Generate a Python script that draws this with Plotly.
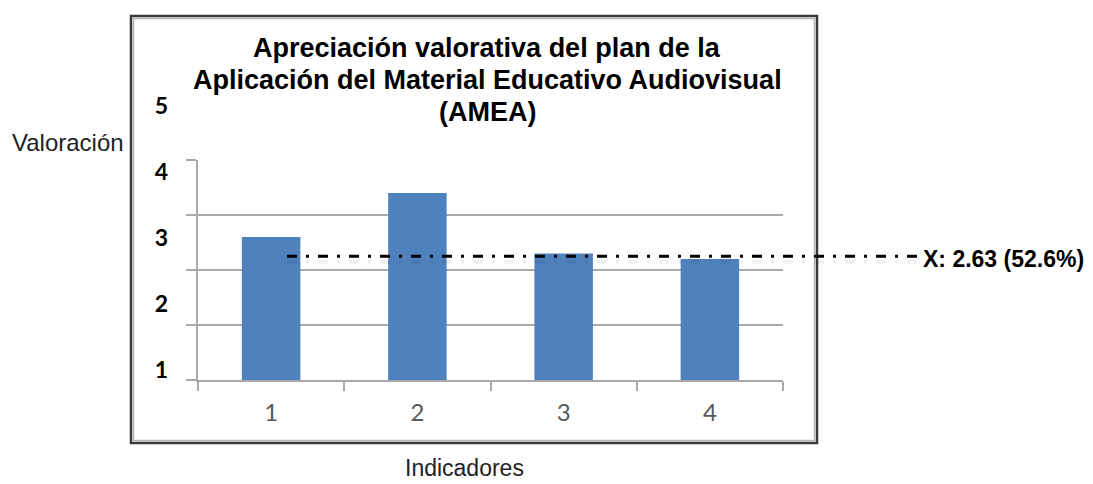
import plotly.graph_objects as go

# ---- data ----
categories = ["1", "2", "3", "4"]
values = [2.6, 3.4, 2.3, 2.2]
y_tick_labels = [1, 2, 3, 4, 5]
mean_value = 2.63
mean_percent = 52.6
mean_line_level = 2.25          # where the dash-dot line is drawn in the picture
title_lines = [
    "Apreciación valorativa del plan de la",
    "Aplicación del Material Educativo Audiovisual",
    "(AMEA)",
]
y_title = "Valoración"
x_title = "Indicadores"

# ---- layout geometry (pixels) ----
W, H = 1093, 484
L, R, T, B = 198, 310, 100, 104
PW, PH = W - L - R, H - T - B


def xp(px):
    return (px - L) / PW


def yp(py):
    return (H - B - py) / PH


fig = go.Figure()
fig.add_trace(go.Bar(
    x=categories, y=values,
    marker=dict(color="#4F81BD", line=dict(width=0)),
    width=0.4, showlegend=False, hoverinfo="skip",
))
# helper (empty) trace so the labelled secondary y scale is drawn
fig.add_trace(go.Scatter(x=[], y=[], xaxis="x", yaxis="y2",
                         showlegend=False, hoverinfo="skip"))

grid = "#a9a9a9"
fig.update_layout(
    width=W, height=H,
    margin=dict(l=L, r=R, t=T, b=B, pad=0),
    paper_bgcolor="white", plot_bgcolor="rgba(0,0,0,0)",
    xaxis=dict(
        type="category", anchor="y",
        showgrid=False, zeroline=False,
        showline=True, linecolor=grid, linewidth=1.5,
        ticks="outside", tickson="boundaries", ticklen=9,
        tickcolor=grid, tickwidth=1.5,
        tickfont=dict(family="Lato", size=24, color="#595959"),
        ticklabelstandoff=10,
    ),
    yaxis=dict(
        domain=[0, yp(160)], range=[0, 4], dtick=1,
        showgrid=True, gridcolor=grid, gridwidth=1.5,
        zeroline=False, showline=True, linecolor=grid, linewidth=1.5,
        ticks="outside", ticklen=10, tickcolor=grid, tickwidth=1.5,
        showticklabels=False,
    ),
    yaxis2=dict(
        domain=[0, 1], anchor="free", position=0,
        range=[1 - (380 - 369.7) / 66.05, 1 + (369.7 - 100) / 66.05],
        tickmode="array", tickvals=y_tick_labels,
        ticktext=[str(v) for v in y_tick_labels],
        showgrid=False, zeroline=False, showline=False, ticks="",
        tickfont=dict(family="Lato", size=23, color="black", weight="bold"),
        ticklabelstandoff=30,
    ),
)

shapes = []
# outer frame with a soft inner shadow line
shapes.append(dict(type="rect", xref="paper", yref="paper",
                   x0=xp(131), x1=xp(817), y0=yp(443), y1=yp(16),
                   line=dict(color="#3a3a3a", width=2.5), layer="below"))
shapes.append(dict(type="rect", xref="paper", yref="paper",
                   x0=xp(133.5), x1=xp(814.5), y0=yp(440.5), y1=yp(18.5),
                   line=dict(color="#b5b5b5", width=1.5), layer="below"))
# mean line (shadow + line)
shapes.append(dict(type="line", xref="paper", yref="y",
                   x0=xp(287), x1=xp(922),
                   y0=mean_line_level - 0.1, y1=mean_line_level - 0.1,
                   line=dict(color="rgba(0,0,0,0.06)", width=4,
                             dash="10px,9px,3px,9px")))
shapes.append(dict(type="line", xref="paper", yref="y",
                   x0=xp(287), x1=xp(922),
                   y0=mean_line_level, y1=mean_line_level,
                   line=dict(color="black", width=3,
                             dash="10px,9px,3px,9px")))
fig.update_layout(shapes=shapes)

ann = []
for text, py in zip(title_lines, [48, 80, 112]):
    ann.append(dict(text="<b>%s</b>" % text, xref="paper", yref="paper",
                    x=xp(487), y=yp(py), xanchor="center", yanchor="middle",
                    showarrow=False,
                    font=dict(family="Liberation Sans", size=27, color="black")))
ann.append(dict(text=y_title, xref="paper", yref="paper",
                x=xp(67.5), y=yp(142), xanchor="center", yanchor="middle",
                showarrow=False,
                font=dict(family="Liberation Sans", size=24, color="#222222")))
ann.append(dict(text=x_title, xref="paper", yref="paper",
                x=xp(464), y=yp(483), xanchor="center", yanchor="bottom",
                showarrow=False,
                font=dict(family="Liberation Sans", size=23, color="#222222")))
ann.append(dict(text="<b>X: %.2f (%.1f%%)</b>" % (mean_value, mean_percent),
                xref="paper", yref="paper",
                x=xp(921), y=yp(259), xanchor="left", yanchor="middle",
                showarrow=False,
                font=dict(family="Liberation Sans", size=23, color="black")))
fig.update_layout(annotations=ann)

fig.write_html("out.html",
               config={"displayModeBar": False},
               post_script="document.body.style.margin='0';"
                           "document.body.style.overflow='hidden';")
